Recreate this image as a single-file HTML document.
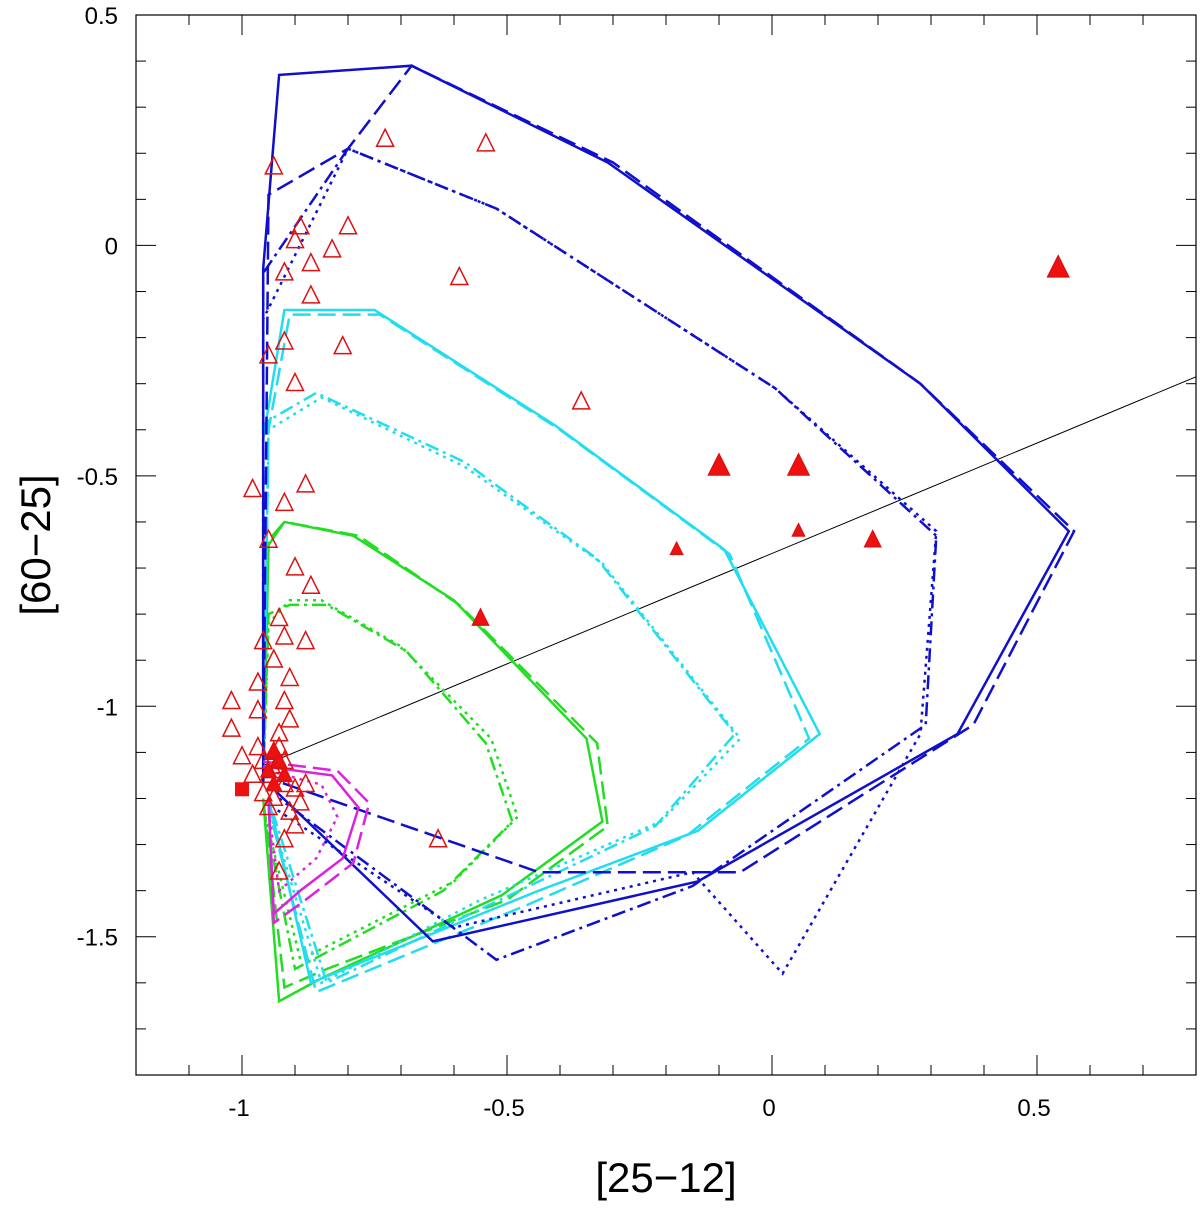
<!DOCTYPE html>
<html><head><meta charset="utf-8"><style>
body{margin:0;background:#fff;}
svg text{font-family:"Liberation Sans",sans-serif;}
</style></head><body>
<svg id="chart" width="1200" height="1205" xmlns="http://www.w3.org/2000/svg">
<g id="marks"></g>
<g id="axes"></g>
</svg>
<script>
const xTicks=[-1,-0.5,0,0.5];
const xTickLabels=["-1","-0.5","0","0.5"];
const yTicks=[0.5,0,-0.5,-1,-1.5];
const yTickLabels=["0.5","0","-0.5","-1","-1.5"];
const blueSolid=[[-0.96,-1.17],[-0.96,-0.05],[-0.93,0.37],[-0.68,0.39],[-0.31,0.18],[0.28,-0.30],[0.56,-0.62],[0.35,-1.06],[-0.14,-1.38],[-0.64,-1.51],[-0.94,-1.18]];
const blueDashed=[[-0.96,-1.17],[-0.95,0.11],[-0.80,0.21],[-0.68,0.39],[-0.30,0.18],[0.28,-0.30],[0.57,-0.62],[0.38,-1.04],[-0.06,-1.36],[-0.44,-1.36],[-0.94,-1.16]];
const blueDashDot=[[-0.96,-1.17],[-0.96,-0.06],[-0.80,0.21],[-0.52,0.08],[0.006,-0.31],[0.31,-0.63],[0.29,-1.04],[-0.15,-1.39],[-0.52,-1.55],[-0.93,-1.20]];
const blueDotted=[[-0.96,-1.17],[-0.96,-0.16],[-0.80,0.21],[-0.52,0.08],[0.006,-0.31],[0.31,-0.62],[0.28,-1.06],[0.02,-1.58],[-0.15,-1.36],[-0.60,-1.48],[-0.94,-1.22]];
const cyanSolid=[[-0.96,-1.17],[-0.96,-0.42],[-0.92,-0.14],[-0.75,-0.14],[-0.41,-0.39],[-0.09,-0.66],[0.09,-1.06],[-0.14,-1.27],[-0.44,-1.40],[-0.87,-1.60],[-0.95,-1.20]];
const cyanDashed=[[-0.96,-1.17],[-0.95,-0.40],[-0.91,-0.15],[-0.74,-0.15],[-0.40,-0.40],[-0.08,-0.67],[0.07,-1.07],[-0.16,-1.28],[-0.46,-1.43],[-0.86,-1.62],[-0.95,-1.22]];
const cyanDotted=[[-0.96,-1.17],[-0.95,-0.40],[-0.85,-0.33],[-0.58,-0.48],[-0.32,-0.69],[-0.06,-1.07],[-0.21,-1.25],[-0.55,-1.42],[-0.85,-1.60],[-0.95,-1.22]];
const cyanDashDot=[[-0.96,-1.17],[-0.95,-0.38],[-0.86,-0.32],[-0.58,-0.47],[-0.33,-0.68],[-0.07,-1.06],[-0.22,-1.26],[-0.55,-1.44],[-0.84,-1.60],[-0.95,-1.20]];
const greenSolid=[[-0.96,-1.17],[-0.95,-0.65],[-0.92,-0.60],[-0.79,-0.63],[-0.60,-0.77],[-0.35,-1.07],[-0.32,-1.25],[-0.51,-1.41],[-0.85,-1.59],[-0.93,-1.64],[-0.96,-1.20]];
const greenDashed=[[-0.96,-1.17],[-0.95,-0.64],[-0.92,-0.60],[-0.78,-0.63],[-0.59,-0.78],[-0.33,-1.08],[-0.31,-1.26],[-0.50,-1.42],[-0.84,-1.57],[-0.92,-1.61],[-0.96,-1.20]];
const greenDotted=[[-0.96,-1.17],[-0.95,-0.82],[-0.91,-0.77],[-0.85,-0.77],[-0.70,-0.87],[-0.53,-1.07],[-0.48,-1.24],[-0.60,-1.38],[-0.89,-1.55],[-0.96,-1.22]];
const greenDashDot=[[-0.96,-1.17],[-0.95,-0.80],[-0.91,-0.78],[-0.84,-0.78],[-0.69,-0.88],[-0.54,-1.08],[-0.49,-1.25],[-0.62,-1.40],[-0.90,-1.57],[-0.96,-1.22]];
const magentaSolid=[[-0.96,-1.13],[-0.83,-1.15],[-0.78,-1.22],[-0.81,-1.33],[-0.89,-1.40],[-0.94,-1.45],[-0.95,-1.20]];
const magentaDashed=[[-0.96,-1.12],[-0.82,-1.14],[-0.76,-1.21],[-0.79,-1.34],[-0.88,-1.42],[-0.94,-1.47],[-0.95,-1.20]];
const magentaDotted=[[-0.95,-1.14],[-0.85,-1.17],[-0.82,-1.24],[-0.86,-1.33],[-0.93,-1.40],[-0.95,-1.22]];
const fitLine=[[-0.957,-1.127],[0.8,-0.285]];
const openTri=[[-0.94,0.17],[-0.73,0.23],[-0.54,0.22],[-0.89,0.04],[-0.80,0.04],[-0.90,0.01],[-0.83,-0.01],[-0.87,-0.04],[-0.92,-0.06],[-0.59,-0.07],[-0.87,-0.11],[-0.81,-0.22],[-0.92,-0.21],[-0.95,-0.24],[-0.36,-0.34],[-0.90,-0.30],[-0.98,-0.53],[-0.92,-0.56],[-0.88,-0.52],[-0.95,-0.64],[-0.90,-0.70],[-0.87,-0.74],[-0.93,-0.81],[-0.88,-0.86],[-0.96,-0.86],[-0.92,-0.85],[-0.94,-0.90],[-0.91,-0.94],[-0.97,-0.95],[-1.02,-0.99],[-0.92,-0.99],[-1.02,-1.05],[-0.91,-1.03],[-0.97,-1.01],[-0.93,-1.06],[-1.00,-1.11],[-0.63,-1.29],[-0.96,-1.12],[-0.95,-1.15],[-0.94,-1.10],[-0.93,-1.13],[-0.92,-1.17],[-0.96,-1.19],[-0.94,-1.20],[-0.90,-1.18],[-0.91,-1.23],[-0.95,-1.22],[-0.88,-1.17],[-0.97,-1.09],[-0.93,-1.09],[-0.90,-1.26],[-0.93,-1.36],[-0.94,-1.14],[-0.92,-1.12],[-0.98,-1.15],[-0.89,-1.21],[-0.92,-1.29]];
const filledTri=[[-0.94,-1.10],[-0.93,-1.12],[-0.95,-1.14],[-0.92,-1.15],[-0.94,-1.17]];
const filledBig=[[0.54,-0.05],[-0.10,-0.48],[0.05,-0.48]];
const filledMed=[[0.19,-0.64],[-0.55,-0.81]];
const filledSmall=[[-0.18,-0.66],[0.05,-0.62]];
const squares=[[-1.0,-1.18]];

const L=136,R=1196,T=15,B=1075,X0=-1.2,X1=0.8,Y0=-1.8,Y1=0.5;
const sx=v=>L+(v-X0)/(X1-X0)*(R-L);
const sy=v=>B-(v-Y0)/(Y1-Y0)*(B-T);
const NS="http://www.w3.org/2000/svg";
const marks=document.getElementById('marks'),axes=document.getElementById('axes');
function mk(tag,attrs,parent){const e=document.createElementNS(NS,tag);for(const k in attrs)e.setAttribute(k,attrs[k]);parent.appendChild(e);return e;}
const dash={solid:"",dashed:"18,7",dotted:"3,5",dashdot:"14,5,3,5"};
function poly(arr,color,style,name,w){
  const e=mk('polyline',{points:arr.map(p=>sx(p[0])+','+sy(p[1])).join(' '),fill:'none',stroke:color,'stroke-width':w||2.5,'stroke-dasharray':dash[style]},marks);
  
  
}
poly(fitLine,'#000','solid','fit-line',1);
poly(greenSolid,'#22dd22','solid','green-solid-track');
poly(greenDashed,'#22dd22','dashed','green-dashed-track');
poly(greenDotted,'#22dd22','dotted','green-dotted-track');
poly(greenDashDot,'#22dd22','dashdot','green-dashdot-track');
poly(cyanSolid,'#22ddee','solid','cyan-solid-track');
poly(cyanDashed,'#22ddee','dashed','cyan-dashed-track');
poly(cyanDotted,'#22ddee','dotted','cyan-dotted-track');
poly(cyanDashDot,'#22ddee','dashdot','cyan-dashdot-track');
poly(blueSolid,'#1010cc','solid','blue-solid-track');
poly(blueDashed,'#1010cc','dashed','blue-dashed-track');
poly(blueDashDot,'#1010cc','dashdot','blue-dashdot-track');
poly(blueDotted,'#1010cc','dotted','blue-dotted-track');
poly(magentaSolid,'#dd22dd','solid','magenta-solid-track');
poly(magentaDashed,'#dd22dd','dashed','magenta-dashed-track');
poly(magentaDotted,'#dd22dd','dotted','magenta-dotted-track');
function tri(p,s,fill,name){
  const x=sx(p[0]),y=sy(p[1]);
  const e=mk('polygon',{points:`${x},${y-s*0.6} ${x-s/2},${y+s*0.4} ${x+s/2},${y+s*0.4}`,fill:fill?'#ee1111':'none',stroke:'#dd1111','stroke-width':1.5},marks);
  
  
}
openTri.forEach(p=>tri(p,17,false,'open-triangle'));
filledTri.forEach(p=>tri(p,15,true,'filled-triangle'));
filledBig.forEach(p=>tri(p,21,true,'large-filled-triangle'));
filledMed.forEach(p=>tri(p,16,true,'medium-filled-triangle'));
filledSmall.forEach(p=>tri(p,12,true,'small-filled-triangle'));
squares.forEach(p=>{const e=mk('rect',{x:sx(p[0])-7,y:sy(p[1])-7,width:14,height:14,fill:'#ee1111'},marks);
  
  });
const fr=mk('rect',{x:L,y:T,width:R-L,height:B-T,fill:'none',stroke:'#000','stroke-width':1.2},axes);


for(let i=-12;i<=8;i++){const v=i/10,x=sx(v),len=(i%5===0)?20:10;
  mk('line',{x1:x,y1:B,x2:x,y2:B-len,stroke:'#000','stroke-width':1},axes);
  mk('line',{x1:x,y1:T,x2:x,y2:T+len,stroke:'#000','stroke-width':1},axes);}
for(let i=-18;i<=5;i++){const v=i/10,y=sy(v),len=(i%5===0)?20:10;
  mk('line',{x1:L,y1:y,x2:L+len,y2:y,stroke:'#000','stroke-width':1},axes);
  mk('line',{x1:R,y1:y,x2:R-len,y2:y,stroke:'#000','stroke-width':1},axes);}
xTicks.forEach((v,i)=>{const t=mk('text',{x:sx(v)-3,y:1116,'text-anchor':'middle','font-size':24},axes);t.textContent=xTickLabels[i];
  
  });
yTicks.forEach((v,i)=>{const t=mk('text',{x:118,y:sy(v)+9,'text-anchor':'end','font-size':24},axes);t.textContent=yTickLabels[i];
  
  });
const xt=mk('text',{x:666,y:1192,'text-anchor':'middle','font-size':42},axes);xt.textContent='[25−12]';


const yt=mk('text',{x:0,y:0,'text-anchor':'middle','font-size':42,transform:'translate(50,545) rotate(-90)'},axes);yt.textContent='[60−25]';


</script>
</body></html>
